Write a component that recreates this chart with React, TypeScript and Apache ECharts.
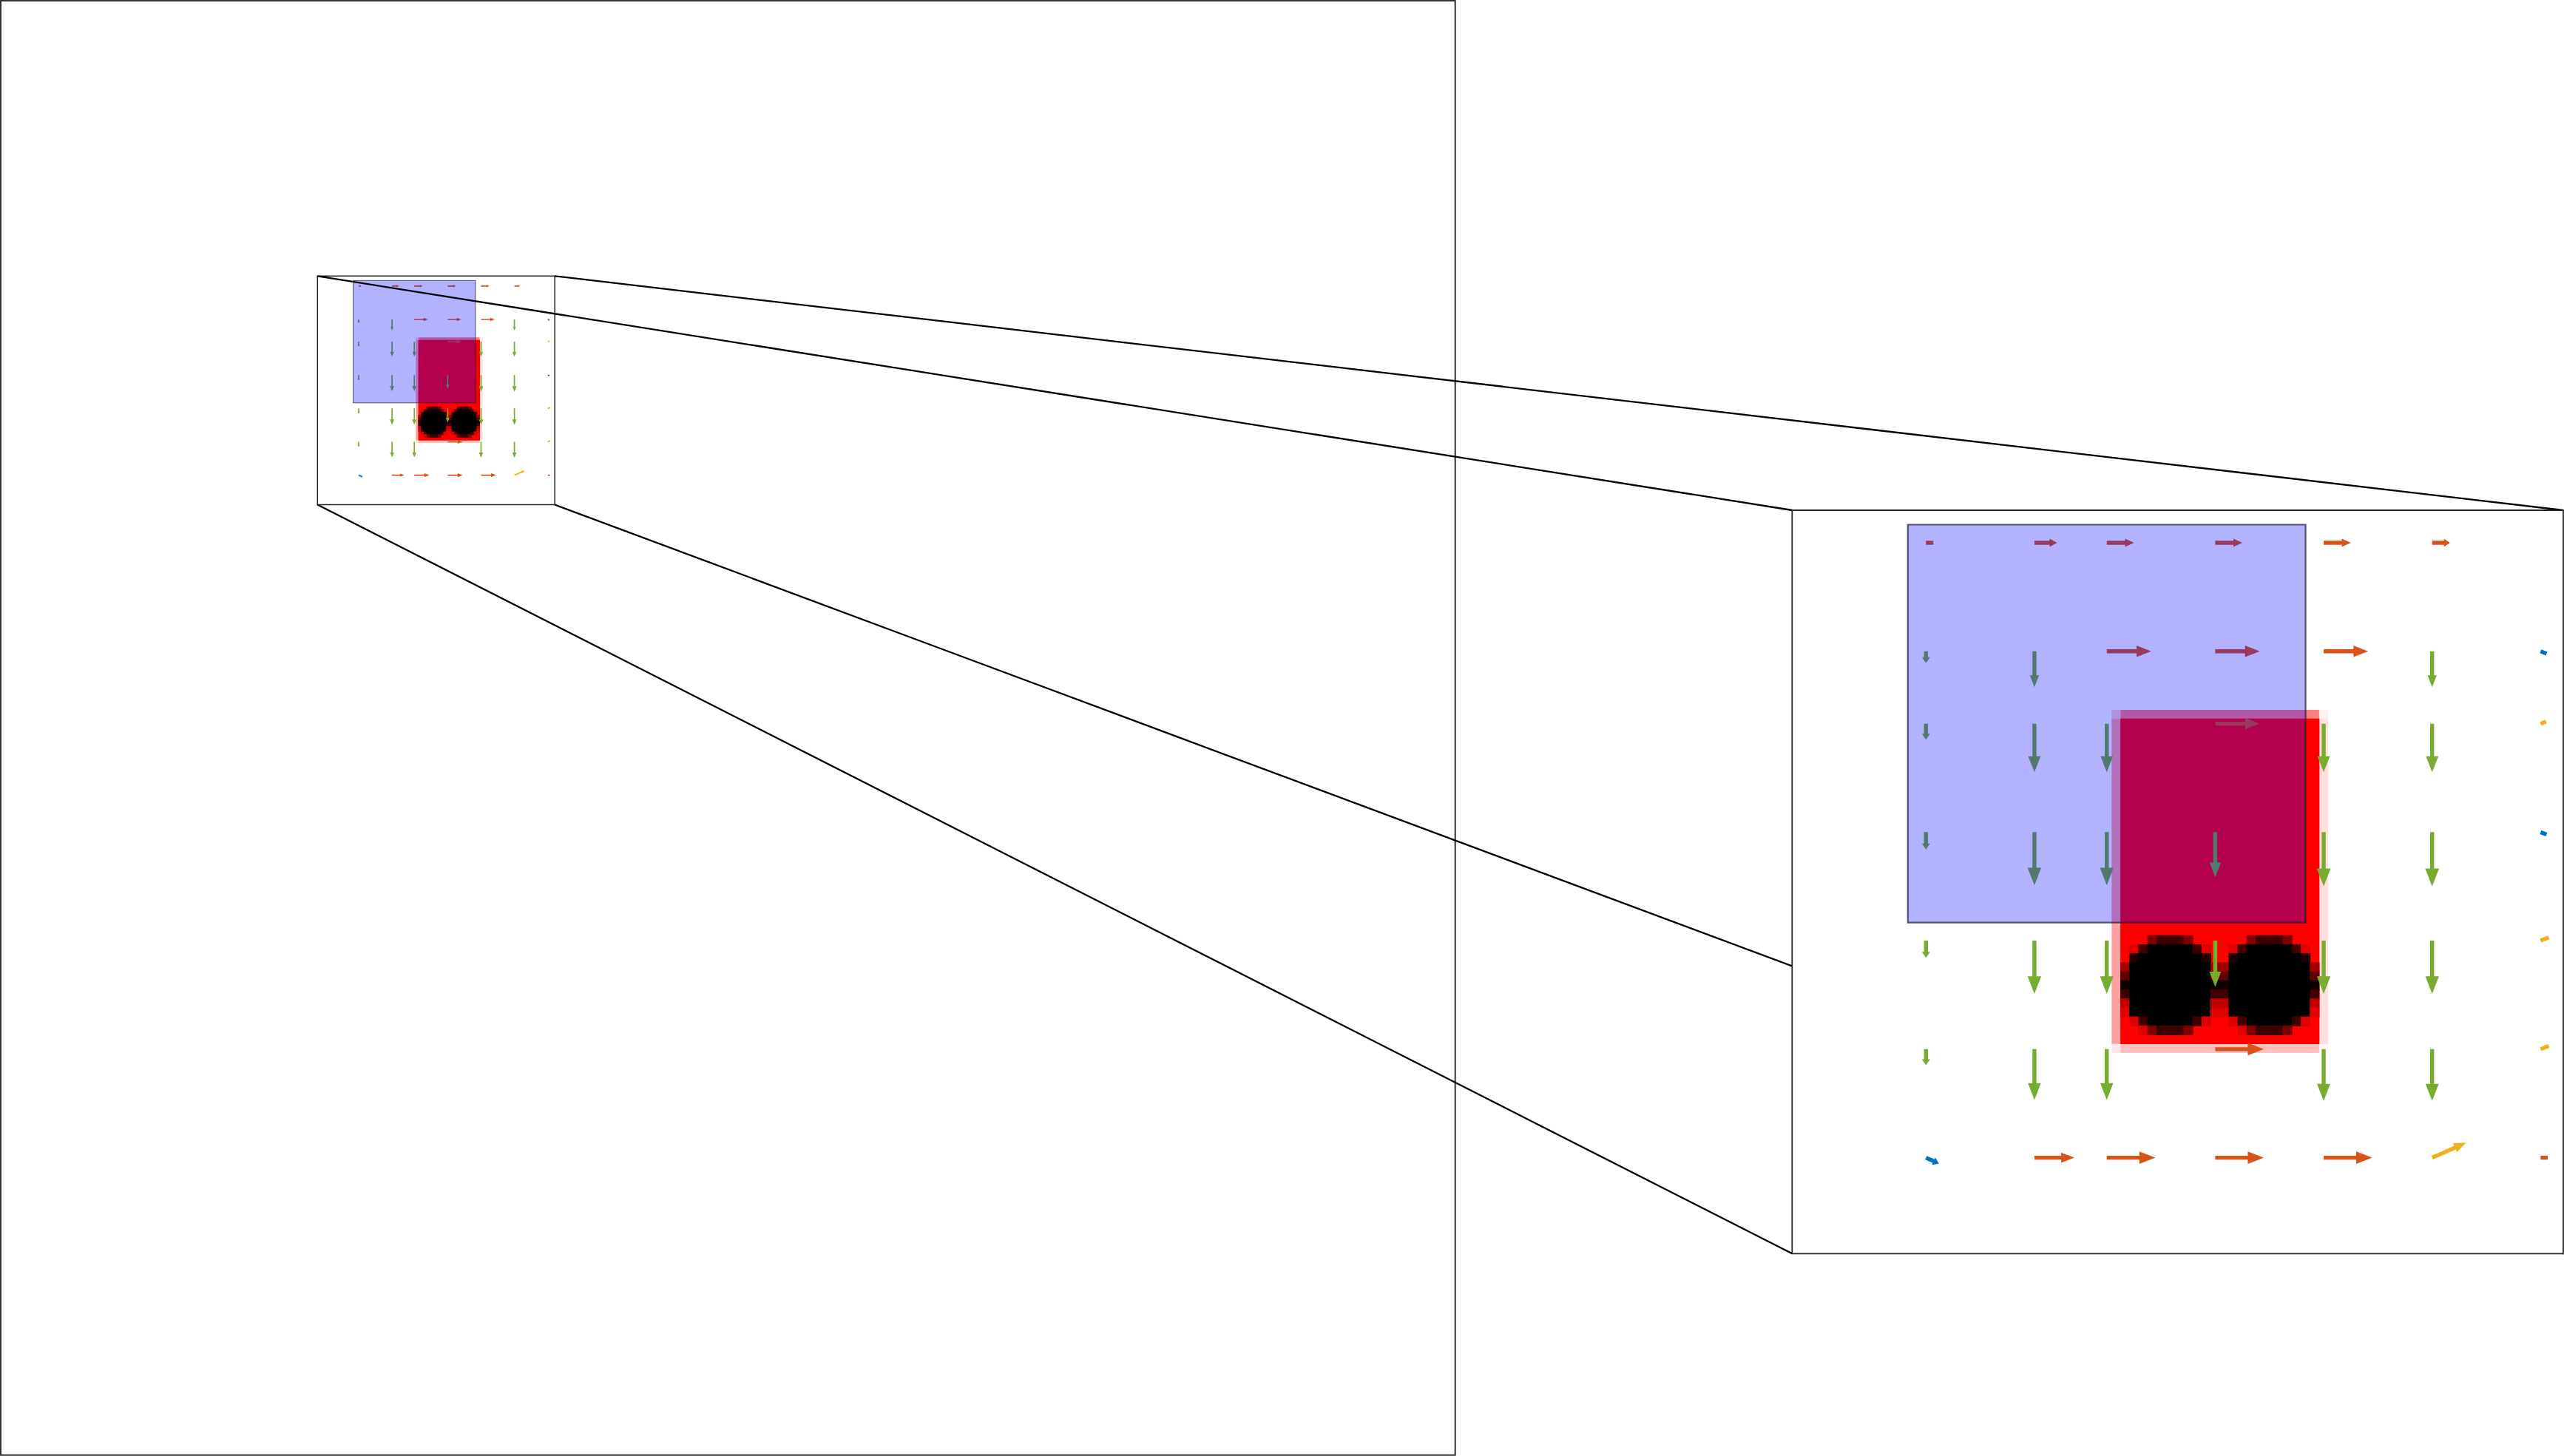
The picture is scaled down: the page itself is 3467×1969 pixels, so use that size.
import React, { useEffect, useRef } from "react";
import * as echarts from "echarts";

// ---------------- data ----------------
// quiver grid (data units)
const COL_X = [0, 1, 1.667, 2.667, 3.667, 4.667, 5.667];
const ROW_Y = [6, 5, 4.333, 3.333, 2.333, 1.333, 0.333];

// vector components, rows top -> bottom, columns left -> right
const U = [
  [0.068, 0.209, 0.252, 0.25, 0.25, 0.164, 0],
  [0, 0, 0.41, 0.41, 0.41, 0, 0.055],
  [0, 0, 0, 0.41, 0, 0, 0.05],
  [0, 0, 0, 0, 0, 0, 0.055],
  [0, 0, 0, 0, 0, 0, 0.075],
  [0, 0, 0, 0.448, 0, 0, 0.075],
  [0.12, 0.368, 0.448, 0.448, 0.448, 0.314, 0.066],
];
const V = [
  [0, 0, 0, 0, 0, 0, 0],
  [-0.109, -0.33, 0, 0, 0, -0.33, -0.022],
  [-0.148, -0.448, -0.448, 0, -0.448, -0.448, 0.02],
  [-0.159, -0.49, -0.49, -0.416, -0.5, -0.5, -0.022],
  [-0.157, -0.49, -0.49, -0.425, -0.49, -0.49, 0.03],
  [-0.148, -0.468, -0.468, 0, -0.477, -0.477, 0.03],
  [-0.055, 0, 0, 0, 0, 0.138, 0],
];
// direction class of each arrow
const CLS = [
  ["o", "o", "o", "o", "o", "o", "o"],
  ["g", "g", "o", "o", "o", "g", "b"],
  ["g", "g", "g", "o", "g", "g", "y"],
  ["g", "g", "g", "g", "g", "g", "b"],
  ["g", "g", "g", "g", "g", "g", "y"],
  ["g", "g", "g", "o", "g", "g", "y"],
  ["b", "o", "o", "o", "o", "y", "o"],
];
const CLASS_KEYS = ["o", "g", "b", "y"];
const CLASS_COLORS = ["#D95319", "#77AC30", "#0072BD", "#EDB120"];

// axes ranges
const ZOOM_X = [-1.234, 5.876];
const ZOOM_Y = [-0.551, 6.3];
const MAIN_X = [-10.724, 32.854];
const MAIN_Y = [-29.028, 14.55];

// translucent blue rectangle [x0, y0, x1, y1]
const BLUE_RECT = [-0.167, 2.5, 3.5, 6.167];

// raster image (red block with two black disks)
const IMG_X0 = 1.7118;
const IMG_Y0 = 4.46;
const IMG_PIX = 0.0832;
const IMG_COLS = 24;
const IMG_ROWS = 38;
const EDGE_COL_ALPHA = [0.375, 0.125]; // left, right partial pixels
const EDGE_ROW_ALPHA = [0.5, 0.25]; // top, bottom partial pixels
// red channel of the disk pixels (255 = red, 0 = black)
const DISK = [
  [255, 255, 255, 128, 64, 64, 64, 128, 255, 255, 255],
  [255, 224, 64, 0, 0, 0, 0, 0, 64, 224, 255],
  [255, 32, 0, 0, 0, 0, 0, 0, 0, 32, 255],
  [160, 0, 0, 0, 0, 0, 0, 0, 0, 0, 160],
  [96, 0, 0, 0, 0, 0, 0, 0, 0, 0, 96],
  [16, 0, 0, 0, 0, 0, 0, 0, 0, 0, 16],
  [64, 0, 0, 0, 0, 0, 0, 0, 0, 0, 64],
  [192, 0, 0, 0, 0, 0, 0, 0, 0, 0, 192],
  [224, 0, 0, 0, 0, 0, 0, 0, 0, 0, 224],
  [255, 224, 64, 0, 0, 0, 0, 0, 64, 224, 255],
  [255, 255, 224, 128, 64, 64, 64, 128, 255, 255, 255],
];
const DISK_ROW0 = 25;
const DISK_COL0 = [1, 12];

// styling constants (pixels at the magnified scale)
const REF_PX_PER_UNIT = 146.65;
const SHAFT_W = 5.4;
const STUB_MAX = 12;

// ---------------- derived tables ----------------
const arrowData: number[][] = [];
ROW_Y.forEach((y, r) => {
  COL_X.forEach((x, c) => {
    if (U[r][c] === 0 && V[r][c] === 0) return;
    arrowData.push([x, y, U[r][c], V[r][c], CLASS_KEYS.indexOf(CLS[r][c])]);
  });
});

const cellData: number[][] = [];
const cx = (c: number) => IMG_X0 + c * IMG_PIX;
const ry = (r: number) => IMG_Y0 - r * IMG_PIX;
function addBlock(c0: number, r0: number, c1: number, r1: number, red: number, a: number, ov: number) {
  cellData.push([cx(c0), ry(r0), cx(c1 + 1), ry(r1 + 1), red, 0, 0, a, ov]);
}
{
  const [aL, aR] = EDGE_COL_ALPHA;
  const [aT, aB] = EDGE_ROW_ALPHA;
  const lc = IMG_COLS - 1;
  const lr = IMG_ROWS - 1;
  addBlock(1, 0, lc - 1, 0, 255, aT, 0);
  addBlock(1, lr, lc - 1, lr, 255, aB, 0);
  addBlock(0, 1, 0, lr - 1, 255, aL, 0);
  addBlock(lc, 1, lc, lr - 1, 255, aR, 0);
  addBlock(0, 0, 0, 0, 255, aL * aT, 0);
  addBlock(lc, 0, lc, 0, 255, aR * aT, 0);
  addBlock(0, lr, 0, lr, 255, aL * aB, 0);
  addBlock(lc, lr, lc, lr, 255, aR * aB, 0);
  addBlock(1, 1, lc - 1, lr - 1, 255, 1, 0.4);
  DISK_COL0.forEach((c0) => {
    DISK.forEach((row, i) => {
      row.forEach((val, j) => {
        if (val < 255) addBlock(c0 + j, DISK_ROW0 + i, c0 + j, DISK_ROW0 + i, val, 1, 0.5);
      });
    });
  });
}

const boxData = [[ZOOM_X[0], ZOOM_Y[1], ZOOM_X[1], ZOOM_Y[0]]];
const blueData = [[BLUE_RECT[0], BLUE_RECT[3], BLUE_RECT[2], BLUE_RECT[1]]];

function rectFrom(api: any) {
  const p0 = api.coord([api.value(0), api.value(1)]);
  const p1 = api.coord([api.value(2), api.value(3)]);
  return { x: p0[0], y: p0[1], width: p1[0] - p0[0], height: p1[1] - p0[1] };
}

function panelSeries(gi: number, zBase: number): any[] {
  const common = {
    type: "custom",
    coordinateSystem: "cartesian2d",
    xAxisIndex: gi,
    yAxisIndex: gi,
    silent: true,
    clip: false,
  };
  const list: any[] = [];
  if (gi === 1) {
    list.push({
      ...common,
      z: zBase,
      data: boxData,
      renderItem: (_p: any, api: any) => ({
        type: "rect",
        shape: rectFrom(api),
        style: { fill: "#ffffff" },
      }),
    });
  }
  list.push({
    ...common,
    z: zBase + 1,
    data: cellData,
    renderItem: (_p: any, api: any) => {
      const s = rectFrom(api);
      const ov = api.value(8);
      const col = `rgba(${api.value(4)},${api.value(5)},${api.value(6)},${api.value(7)})`;
      return {
        type: "rect",
        shape: { x: s.x - ov, y: s.y - ov, width: s.width + 2 * ov, height: s.height + 2 * ov },
        style: { fill: col },
      };
    },
  });
  list.push({
    ...common,
    z: zBase + 2,
    data: arrowData,
    renderItem: (_p: any, api: any) => {
      const x = api.value(0), y = api.value(1), u = api.value(2), v = api.value(3);
      const ci = api.value(4);
      const p0 = api.coord([x, y]);
      const p1 = api.coord([x + u, y + v]);
      const k = api.size([1, 0])[0] / REF_PX_PER_UNIT;
      const dx = p1[0] - p0[0], dy = p1[1] - p0[1];
      const L = Math.hypot(dx, dy);
      if (L < 1e-6) return null;
      const ex = dx / L, ey = dy / L, nx = -ey, ny = ex;
      const hs = (SHAFT_W * k) / 2;
      let pts: number[][];
      if (L < STUB_MAX * k) {
        pts = [
          [p0[0] + nx * hs, p0[1] + ny * hs],
          [p1[0] + nx * hs, p1[1] + ny * hs],
          [p1[0] - nx * hs, p1[1] - ny * hs],
          [p0[0] - nx * hs, p0[1] - ny * hs],
        ];
      } else {
        const hl = Math.min(Math.max(0.33 * L, 8 * k), 0.6 * L);
        const hh = Math.max(0.128 * L, 5.5 * k);
        const sx = p1[0] - ex * hl, sy = p1[1] - ey * hl;
        pts = [
          [p0[0] + nx * hs, p0[1] + ny * hs],
          [sx + nx * hs, sy + ny * hs],
          [sx + nx * hh, sy + ny * hh],
          [p1[0], p1[1]],
          [sx - nx * hh, sy - ny * hh],
          [sx - nx * hs, sy - ny * hs],
          [p0[0] - nx * hs, p0[1] - ny * hs],
        ];
      }
      return { type: "polygon", shape: { points: pts }, style: { fill: CLASS_COLORS[ci] } };
    },
  });
  list.push({
    ...common,
    z: zBase + 3,
    data: blueData,
    renderItem: (_p: any, api: any) => {
      const k = api.size([1, 0])[0] / REF_PX_PER_UNIT;
      return {
        type: "rect",
        shape: rectFrom(api),
        style: {
          fill: "rgba(0,0,255,0.3)",
          stroke: "rgba(25,25,55,0.7)",
          lineWidth: Math.max(1, 2.2 * k),
        },
      };
    },
  });
  list.push({
    ...common,
    z: zBase + 4,
    data: boxData,
    renderItem: (_p: any, api: any) => ({
      type: "rect",
      shape: rectFrom(api),
      style: { fill: "none", stroke: "#262626", lineWidth: gi === 0 ? 1.5 : 1.8 },
    }),
  });
  return list;
}

export default function App() {
  const ref = useRef<HTMLDivElement>(null);
  useEffect(() => {
    const el = ref.current;
    if (!el) return;
    const chart = echarts.init(el, null, { renderer: "svg" });
    chart.setOption({
      animation: false,
      backgroundColor: "#ffffff",
      grid: [
        {
          left: 1,
          top: 1,
          width: 1966.7,
          height: 1966.7,
          show: true,
          borderColor: "#333333",
          borderWidth: 2,
          backgroundColor: "transparent",
          containLabel: false,
        },
        { left: 2423.3, top: 690, width: 1042.7, height: 1005.3, show: false, containLabel: false },
      ],
      xAxis: [
        { gridIndex: 0, type: "value", min: MAIN_X[0], max: MAIN_X[1], show: false },
        { gridIndex: 1, type: "value", min: ZOOM_X[0], max: ZOOM_X[1], show: false },
      ],
      yAxis: [
        { gridIndex: 0, type: "value", min: MAIN_Y[0], max: MAIN_Y[1], show: false },
        { gridIndex: 1, type: "value", min: ZOOM_Y[0], max: ZOOM_Y[1], show: false },
      ],
      series: [...panelSeries(0, 2), ...panelSeries(1, 10)],
    });

    // connector lines between the zoom box corners and the magnified panel corners
    const corners = [
      [ZOOM_X[0], ZOOM_Y[1]],
      [ZOOM_X[1], ZOOM_Y[1]],
      [ZOOM_X[0], ZOOM_Y[0]],
      [ZOOM_X[1], ZOOM_Y[0]],
    ];
    const lines = corners.map((pt) => {
      const a = chart.convertToPixel({ gridIndex: 0 } as any, pt) as number[];
      const b = chart.convertToPixel({ gridIndex: 1 } as any, pt) as number[];
      return {
        type: "line",
        z: 8,
        silent: true,
        shape: { x1: a[0], y1: a[1], x2: b[0], y2: b[1] },
        style: { stroke: "#000000", lineWidth: 2.3 },
      };
    });
    chart.setOption({ graphic: lines });

    return () => chart.dispose();
  }, []);
  return (
    <div
      ref={ref}
      style={{ position: "fixed", left: 0, top: 0, width: 3467, height: 1969, background: "#ffffff" }}
    />
  );
}
